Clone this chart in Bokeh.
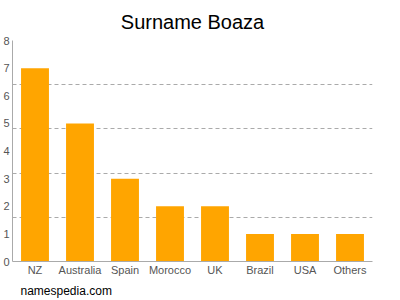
from bokeh.plotting import figure
from bokeh.models import FixedTicker, Title, ColumnDataSource
from bokeh.embed import file_html
from bokeh.resources import INLINE

categories = ["NZ", "Australia", "Spain", "Morocco", "UK", "Brazil", "USA", "Others"]
counts = [7, 5, 3, 2, 2, 1, 1, 1]
y_ticks = [0, 1, 2, 3, 4, 5, 6, 7, 8]
grid_ticks = [1.6, 3.2, 4.8, 6.4, 8]

src = ColumnDataSource(dict(cat=categories, val=counts))

p = figure(x_range=categories, y_range=(0, 8), width=400, height=300,
           output_backend="svg", toolbar_location=None,
           min_border_left=12, min_border_right=28, min_border_top=40, min_border_bottom=4)
p.title.text = "Surname Boaza"
p.title.align = "center"
p.title.text_font = "Liberation Sans"
p.title.text_font_size = "20px"
p.title.text_font_style = "normal"
p.title.text_color = "#000000"
p.title.standoff = 16

p.vbar(x="cat", top="val", width=0.62, source=src, color="#FFA500", line_color=None)

p.outline_line_color = None
p.xgrid.grid_line_color = None
p.ygrid.ticker = FixedTicker(ticks=grid_ticks)
p.ygrid.grid_line_color = "#aaaaaa"
p.ygrid.grid_line_dash = "4 3"

p.yaxis.ticker = FixedTicker(ticks=y_ticks)
for ax in (p.xaxis[0], p.yaxis[0]):
    ax.axis_line_color = "#aaaaaa"
    ax.major_tick_line_color = None
    ax.minor_tick_line_color = None
    ax.major_tick_out = 0
    ax.major_tick_in = 0
    ax.minor_tick_out = 0
    ax.minor_tick_in = 0
    ax.major_label_text_font = "Liberation Sans"
    ax.major_label_text_font_size = "11px"
    ax.major_label_text_color = "#555555"
p.yaxis.major_label_standoff = 3
p.xaxis.major_label_standoff = 2

p.add_layout(Title(text="namespedia.com", align="left", text_font="Liberation Sans",
                   text_font_size="12px", text_font_style="normal", text_color="#000000",
                   offset=8, standoff=6), "below")

open("out.html", "w").write(file_html(p, INLINE))
